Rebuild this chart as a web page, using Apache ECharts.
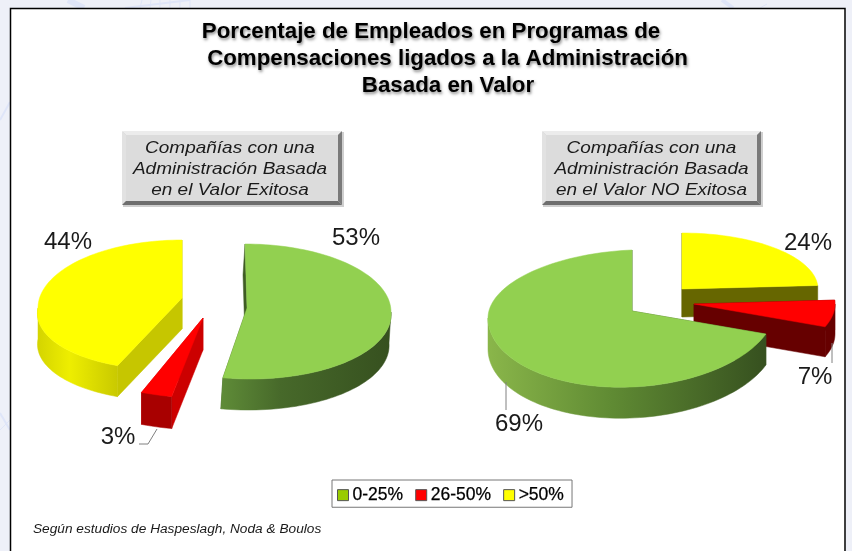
<!DOCTYPE html>
<html><head><meta charset="utf-8">
<style>html,body{margin:0;padding:0;background:#eef0f8}#c{width:852px;height:551px}</style>
<script src="https://cdn.jsdelivr.net/npm/echarts@6/dist/echarts.min.js"></script>
</head><body><div id="c"></div>
<script>
const categories = ['0-25%', '26-50%', '>50%'];
const valuesExitosa = [53, 3, 44];
const valuesNoExitosa = [69, 7, 24];
const titleLines = ['Porcentaje de Empleados en Programas de', 'Compensaciones ligados a la Administración', 'Basada en Valor'];
const boxLeftLines = ['Compañías con una', 'Administración Basada', 'en el Valor Exitosa'];
const boxRightLines = ['Compañías con una', 'Administración Basada', 'en el Valor NO Exitosa'];
const footnote = 'Según estudios de Haspeslagh, Noda & Boulos';

const FONT = '"Liberation Sans", Arial, sans-serif';
const LG = (stops) => new echarts.graphic.LinearGradient(0, 0, 1, 0, stops.map((c, i) => ({offset: c[0], color: c[1]})));

// clockwise-from-top slice order and start angle for each pie
const pies = [
  {values: valuesExitosa, order: [0, 1, 2], start: 0},
  {values: valuesNoExitosa, order: [2, 1, 0], start: 0}
];
pies.forEach(p => {
  let a = p.start;
  p.ang = {};
  p.order.forEach(i => { const s = p.values[i] * 3.6; p.ang[i] = [a, a + s]; a += s; });
});

// drawing geometry, per pie then per category
const geo = [[
  {cx: 245, cy: 312, ax: 247, ay: 308, rx: 146, ryT: 68, ryB: 67, sk: 0.08, tilt: 0, d: 31, dx: -2, z: 10,
   top: '#92d050', rad: '#3f5c24', wall: [[0, '#5f8c38'], [0.35, '#47692a'], [1, '#36501f']],
   lab: [356, 238]},
  {cx: 203, cy: 318, ax: 203, ay: 318, rx: 167, ryT: 80, ryB: 80, sk: 0, tilt: 0, d: 32, dx: 0, z: 20,
   top: '#ff0000', rad: '#cc0000', wall: [[0, '#a80000'], [1, '#a80000']],
   lab: [118, 437], leader: [[157, 429], [148, 444], [139, 444]]},
  {cx: 182, cy: 308, ax: 182, ay: 298, rx: 144, ryT: 68, ryB: 62, sk: -0.2, tilt: 0, d: 31, dx: 0, z: 30,
   top: '#ffff00', rad: '#c6c600', wall: [[0, '#d4d400'], [0.4, '#eeee00'], [1, '#c9c900']],
   lab: [68, 242]}
], [
  {cx: 632, cy: 312, ax: 632, ay: 311, rx: 144, ryT: 62, ryB: 75, sk: 0, tilt: 6, d: 31, dx: 0, z: 70,
   top: '#92d050', rad: '#3f5c24', wall: [[0, '#8ab64a'], [0.45, '#5f8a33'], [1, '#36501f']],
   lab: [519, 424], leader: [[506, 382], [506, 410]]},
  {cx: 694, cy: 304, ax: 694, ay: 304, rx: 141, ryT: 62, ryB: 62, sk: 0, tilt: 0, d: 30, dx: 0, z: 60,
   top: '#ff0000', rad: '#660000', wall: [[0, '#660000'], [1, '#660000']],
   lab: [815, 377], leader: [[832, 343], [832, 363]]},
  {cx: 682, cy: 289, ax: 682, ay: 289, rx: 136, ryT: 56, ryB: 56, sk: 0, tilt: 0, d: 28, dx: 0, z: 50,
   top: '#ffff00', rad: '#666600', wall: [[0, '#666600'], [1, '#666600']],
   lab: [808, 243]}
]];

function pt(g, deg) {
  const a = deg * Math.PI / 180, s = Math.sin(a), c = Math.cos(a);
  const dy = c > 0 ? -g.ryT * c : -g.ryB * c;
  return [g.cx + g.rx * s + (dy > 0 ? g.sk * dy : 0), g.cy + dy - g.tilt * s];
}
function arc(g, a0, a1) {
  const n = Math.max(2, Math.ceil((a1 - a0) / 2)), out = [];
  for (let i = 0; i <= n; i++) out.push(pt(g, a0 + (a1 - a0) * i / n));
  return out;
}
function down(g, p) { return [p[0] + g.dx, p[1] + g.d]; }

function renderSlice(catIdx) {
  return function (params, api) {
    const pieIdx = api.value(0), value = api.value(1);
    const g = geo[pieIdx][catIdx], [a0, a1] = pies[pieIdx].ang[catIdx];
    const apex = [g.ax, g.ay], children = [];
    const poly = (points, fill, z2) => children.push({type: 'polygon', shape: {points}, z2,
      style: {fill, stroke: fill, lineWidth: 0.5}});
    [a0, a1].forEach(a => {
      const e = pt(g, a);
      poly([apex, e, down(g, e), down(g, apex)], g.rad, g.z);
    });
    const w0 = Math.max(a0, 90), w1 = Math.min(a1, 270);
    if (w1 > w0) {
      const top = arc(g, w0, w1);
      poly(top.concat(top.map(p => down(g, p)).reverse()), LG(g.wall), g.z + 1);
    }
    poly([apex].concat(arc(g, a0, a1)), g.top, g.z + 2);
    if (g.leader) children.push({type: 'polyline', shape: {points: g.leader}, z2: 90,
      style: {stroke: '#808080', lineWidth: 1, fill: null}});
    children.push({type: 'text', x: g.lab[0], y: g.lab[1], z2: 95, style: {
      text: value + '%', font: '24px ' + FONT, fill: '#1a1a1a', align: 'center', verticalAlign: 'middle'}});
    return {type: 'group', children};
  };
}

const legendColors = ['#99cc00', '#ff0000', '#ffff00'];
const series = categories.map((name, i) => ({
  type: 'custom', name, coordinateSystem: 'none', silent: true, animation: false,
  itemStyle: {color: legendColors[i]},
  renderItem: renderSlice(i),
  data: [[0, valuesExitosa[i]], [1, valuesNoExitosa[i]]]
}));

// page decoration
const bgLine = (pts, w) => ({type: 'polyline', z: -5, silent: true, shape: {points: pts},
  style: {stroke: '#dfe5f8', lineWidth: w, fill: null}});
const graphics = [
  bgLine([[68, 0], [84, 8]], 6), bgLine([[10, 102], [0, 120]], 2),
  bgLine([[0, 413], [10, 430]], 2), bgLine([[0, 430], [10, 420]], 1),
  bgLine([[125, 8], [190, 0]], 2),
  bgLine([[140, 8], [142, 0]], 1), bgLine([[150, 8], [151, 0]], 1), bgLine([[160, 8], [160, 0]], 1),
  bgLine([[170, 8], [170, 0]], 1), bgLine([[180, 8], [180, 0]], 1), bgLine([[190, 8], [190, 0]], 1),
  bgLine([[722, 0], [733, 8]], 4), bgLine([[760, 8], [767, 4]], 1),
  {type: 'rect', z: -4, silent: true, shape: {x: 10.5, y: 8.5, width: 835, height: 550},
   style: {fill: '#ffffff', stroke: 'none'}},
  {type: 'polyline', z: 100, silent: true, shape: {points: [[10.5, 551], [10.5, 8.5], [845, 8.5], [845, 551]]},
   style: {fill: null, stroke: '#000', lineWidth: 1.5}}
];
// title
[[431, 32], [447.5, 59], [448, 86]].forEach((p, i) => graphics.push({type: 'text', x: p[0], y: p[1], silent: true, z: 5,
  style: {text: titleLines[i], font: 'bold 22.3px ' + FONT, fill: '#000', align: 'center', verticalAlign: 'middle',
    textShadowColor: 'rgba(0,0,0,0.45)', textShadowBlur: 3, textShadowOffsetX: 1, textShadowOffsetY: 2}}));
// bevelled boxes
function box(x, y, w, h, lines, yc, tx) {
  const b = 4, poly = (points, fill) => graphics.push({type: 'polygon', z: 3, silent: true, shape: {points}, style: {fill}});
  graphics.push({type: 'rect', z: 2, silent: true, shape: {x: x + 1, y: y + 1, width: w + 1, height: h + 1}, style: {fill: '#cfcfcf'}});
  poly([[x, y], [x + w, y], [x + w - b, y + b], [x + b, y + b]], '#ececec');
  poly([[x, y], [x + b, y + b], [x + b, y + h - b], [x, y + h]], '#e2e2e2');
  poly([[x + w, y], [x + w, y + h], [x + w - b, y + h - b], [x + w - b, y + b]], '#7a7a7a');
  poly([[x, y + h], [x + w, y + h], [x + w - b, y + h - b], [x + b, y + h - b]], '#6e6e6e');
  graphics.push({type: 'rect', z: 3, silent: true, shape: {x: x + b, y: y + b, width: w - 2 * b, height: h - 2 * b},
    style: {fill: '#dcdcdc'}});
  lines.forEach((t, i) => graphics.push({type: 'text', z: 4, silent: true, x: tx, y: yc[i], scaleX: 1.15,
    style: {text: t, font: 'italic 16.5px ' + FONT, fill: '#1a1a1a', align: 'center', verticalAlign: 'middle'}}));
}
box(122, 131, 220, 74, boxLeftLines, [148, 169, 190], 230);
box(542, 131, 219, 74, boxRightLines, [148, 169, 190], 651.5);
graphics.push({type: 'text', x: 33, y: 530, silent: true, z: 5, scaleX: 1.14,
  style: {text: footnote, font: 'italic 12px ' + FONT, fill: '#1a1a1a', verticalAlign: 'middle'}});

const chart = echarts.init(document.getElementById('c'), null, {renderer: 'canvas'});
chart.setOption({
  animation: false,
  backgroundColor: 'transparent',
  legend: {
    data: categories, left: 332, top: 480, icon: 'rect', itemWidth: 11, itemHeight: 11, itemGap: 12,
    padding: [6, 8, 3, 5], borderColor: '#777', borderWidth: 1, backgroundColor: '#fff', selectedMode: false,
    itemStyle: {borderColor: '#555', borderWidth: 1},
    textStyle: {fontFamily: FONT, fontSize: 17.5, color: '#000', textBorderColor: '#000', textBorderWidth: 0.25, padding: [0, 0, 0, -1]}
  },
  graphic: graphics,
  series
});
</script></body></html>
